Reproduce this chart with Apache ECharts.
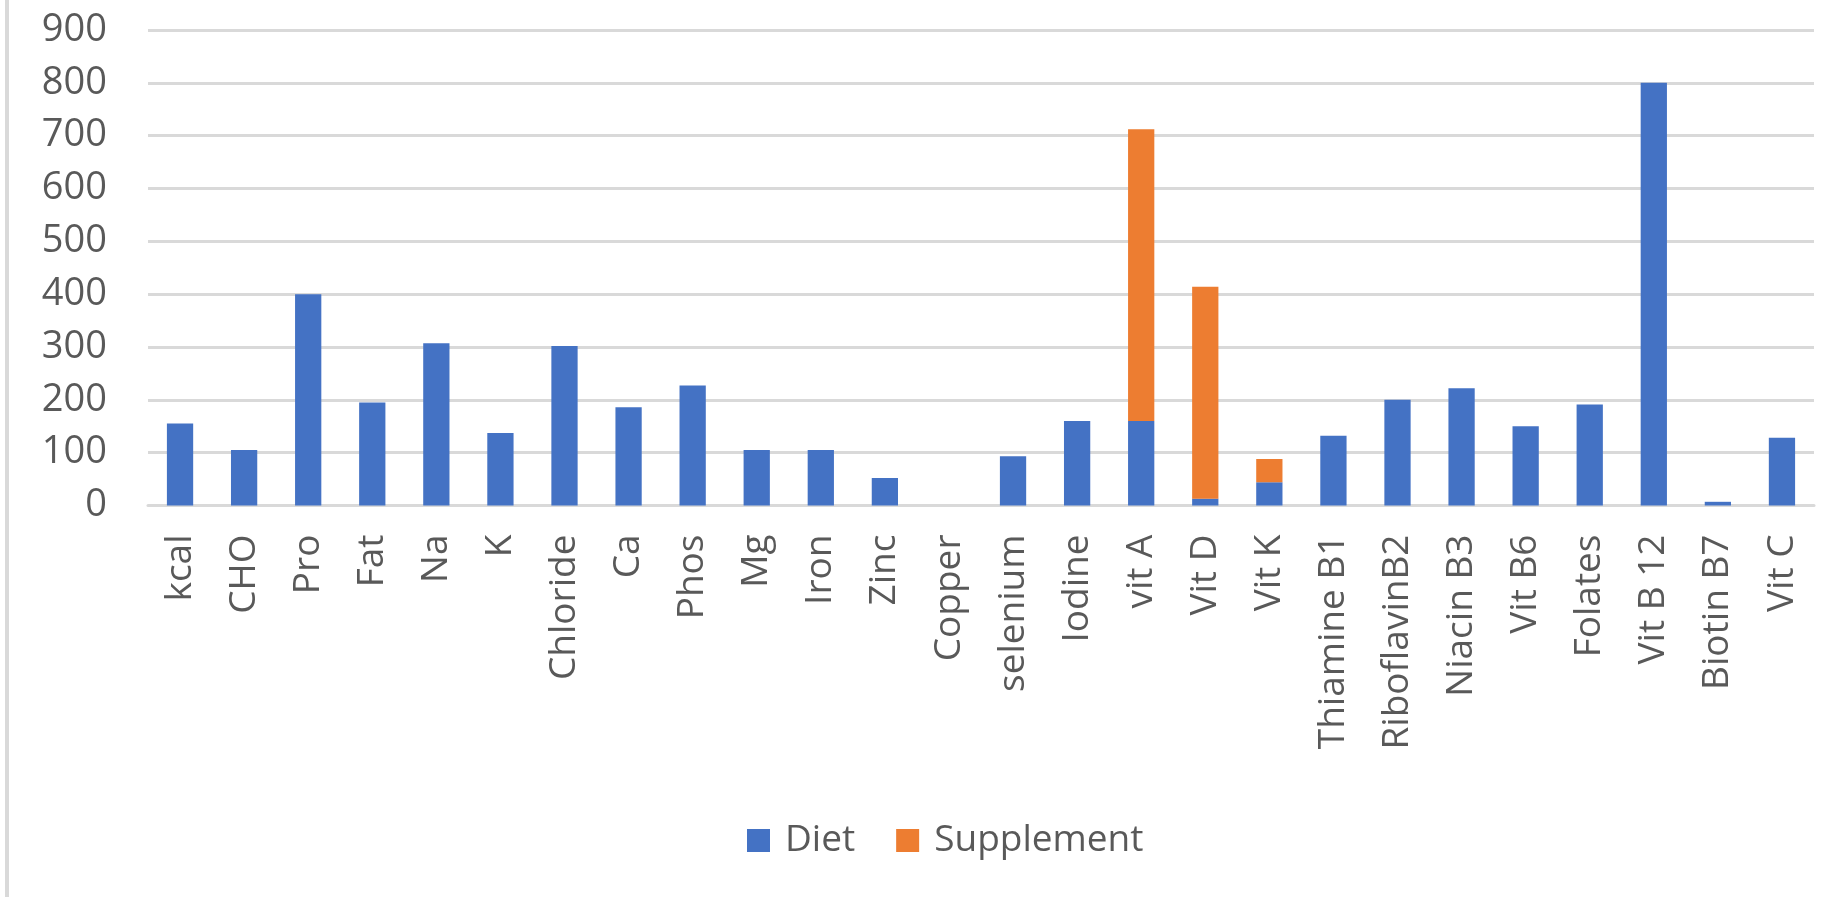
<!DOCTYPE html>
<html>
<head>
<meta charset="utf-8">
<title>Diet and Supplement intake</title>
<script src="https://cdn.jsdelivr.net/npm/echarts@6/dist/echarts.min.js"></script>
<style>
  html, body { margin: 0; padding: 0; background: #ffffff; }
  #chart { width: 1843px; height: 897px; }
</style>
</head>
<body>
<div id="chart"></div>
<script>
// Nutrient categories along the x axis
const categories = [
  'kcal', 'CHO', 'Pro', 'Fat', 'Na', 'K', 'Chloride', 'Ca', 'Phos', 'Mg',
  'Iron', 'Zinc', 'Copper', 'selenium', 'Iodine', 'vit A', 'Vit D', 'Vit K',
  'Thiamine B1', 'RiboflavinB2', 'Niacin B3', 'Vit B6', 'Folates', 'Vit B 12',
  'Biotin B7', 'Vit C'
];

// Intake from diet
const dietValues = [
  155, 105, 400, 195, 307, 137, 302, 186, 227, 105,
  105, 52, 0, 93, 160, 160, 13, 44,
  132, 200, 222, 150, 191, 800,
  7, 128
];

// Intake from supplements (stacked on top of diet)
const supplementValues = [
  0, 0, 0, 0, 0, 0, 0, 0, 0, 0,
  0, 0, 0, 0, 0, 552, 401, 44,
  0, 0, 0, 0, 0, 0,
  0, 0
];

// Value axis ticks
const yTicks = { min: 0, max: 900, interval: 100 };

const seriesNames = ['Diet', 'Supplement'];

const FONT = '"Open Sans", "Noto Sans", sans-serif';
const TEXT_COLOR = '#595959';
const GRID_COLOR = '#d9d9d9';

const chart = echarts.init(document.getElementById('chart'), null, { renderer: 'canvas' });

chart.setOption({
  animation: false,
  backgroundColor: '#ffffff',
  color: ['#4472c4', '#ed7d31'],
  graphic: [
    {
      type: 'rect',
      left: 5,
      top: 0,
      shape: { width: 4, height: 897 },
      style: { fill: GRID_COLOR },
      silent: true
    }
  ],
  grid: {
    left: 148,
    right: 29,
    top: 30,
    bottom: 391.5,
    containLabel: false
  },
  legend: {
    data: seriesNames,
    left: 747,
    top: 822,
    padding: 0,
    itemWidth: 23,
    itemHeight: 23,
    itemGap: 41,
    icon: 'rect',
    textStyle: {
      fontFamily: FONT,
      fontSize: 37,
      color: TEXT_COLOR,
      padding: [0, 0, 0, 10],
      lineHeight: 23
    }
  },
  xAxis: {
    type: 'category',
    data: categories,
    axisTick: { show: false },
    axisLine: { show: true, lineStyle: { color: GRID_COLOR, width: 3 } },
    axisLabel: {
      interval: 0,
      rotate: 90,
      margin: 29,
      fontFamily: FONT,
      fontSize: 37,
      color: TEXT_COLOR
    }
  },
  yAxis: {
    type: 'value',
    min: yTicks.min,
    max: yTicks.max,
    interval: yTicks.interval,
    axisLine: { show: false },
    axisTick: { show: false },
    splitLine: { show: true, lineStyle: { color: GRID_COLOR, width: 3 } },
    axisLabel: {
      margin: 41,
      fontFamily: FONT,
      fontSize: 38,
      color: TEXT_COLOR
    }
  },
  series: [
    {
      name: seriesNames[0],
      type: 'bar',
      stack: 'total',
      barWidth: '41%',
      data: dietValues
    },
    {
      name: seriesNames[1],
      type: 'bar',
      stack: 'total',
      barWidth: '41%',
      data: supplementValues
    }
  ]
});
</script>
</body>
</html>
